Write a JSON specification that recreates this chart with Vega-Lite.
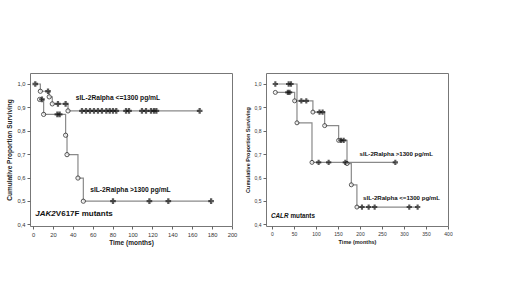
{
  "$schema": "https://vega.github.io/schema/vega-lite/v6.json",
  "background": "white",
  "padding": {"left": 6, "top": 72, "right": 0, "bottom": 0},
  "spacing": 6,
  "datasets": {
    "km": [
      {"panel": "A", "grp": "hi", "type": "event", "t": 6.7, "s": 0.934},
      {"panel": "A", "grp": "hi", "type": "censor", "t": 9.0, "s": 0.934},
      {"panel": "A", "grp": "hi", "type": "event", "t": 10.7, "s": 0.870},
      {"panel": "A", "grp": "hi", "type": "censor", "t": 24.5, "s": 0.870},
      {"panel": "A", "grp": "hi", "type": "censor", "t": 26.8, "s": 0.870},
      {"panel": "A", "grp": "hi", "type": "event", "t": 32.8, "s": 0.781},
      {"panel": "A", "grp": "hi", "type": "event", "t": 34.2, "s": 0.698},
      {"panel": "A", "grp": "hi", "type": "event", "t": 45.2, "s": 0.598},
      {"panel": "A", "grp": "hi", "type": "event", "t": 50.6, "s": 0.499},
      {"panel": "A", "grp": "hi", "type": "censor", "t": 80.4, "s": 0.499},
      {"panel": "A", "grp": "hi", "type": "censor", "t": 117, "s": 0.499},
      {"panel": "A", "grp": "hi", "type": "censor", "t": 136, "s": 0.499},
      {"panel": "A", "grp": "hi", "type": "censor", "t": 179, "s": 0.499},
      {"panel": "A", "grp": "lo", "type": "censor", "t": 2.3, "s": 1.0},
      {"panel": "A", "grp": "lo", "type": "event", "t": 7.4, "s": 0.969},
      {"panel": "A", "grp": "lo", "type": "censor", "t": 15.1, "s": 0.969},
      {"panel": "A", "grp": "lo", "type": "event", "t": 16.3, "s": 0.945},
      {"panel": "A", "grp": "lo", "type": "event", "t": 19.4, "s": 0.915},
      {"panel": "A", "grp": "lo", "type": "censor", "t": 25.1, "s": 0.915},
      {"panel": "A", "grp": "lo", "type": "censor", "t": 32.8, "s": 0.915},
      {"panel": "A", "grp": "lo", "type": "event", "t": 35.2, "s": 0.885},
      {"panel": "A", "grp": "lo", "type": "censor", "t": 49.2, "s": 0.885},
      {"panel": "A", "grp": "lo", "type": "censor", "t": 53.3, "s": 0.885},
      {"panel": "A", "grp": "lo", "type": "censor", "t": 57.3, "s": 0.885},
      {"panel": "A", "grp": "lo", "type": "censor", "t": 61.3, "s": 0.885},
      {"panel": "A", "grp": "lo", "type": "censor", "t": 65.3, "s": 0.885},
      {"panel": "A", "grp": "lo", "type": "censor", "t": 69.3, "s": 0.885},
      {"panel": "A", "grp": "lo", "type": "censor", "t": 73.7, "s": 0.885},
      {"panel": "A", "grp": "lo", "type": "censor", "t": 77.1, "s": 0.885},
      {"panel": "A", "grp": "lo", "type": "censor", "t": 80.4, "s": 0.885},
      {"panel": "A", "grp": "lo", "type": "censor", "t": 83.7, "s": 0.885},
      {"panel": "A", "grp": "lo", "type": "censor", "t": 93.5, "s": 0.885},
      {"panel": "A", "grp": "lo", "type": "censor", "t": 96.5, "s": 0.885},
      {"panel": "A", "grp": "lo", "type": "censor", "t": 109.5, "s": 0.885},
      {"panel": "A", "grp": "lo", "type": "censor", "t": 113.6, "s": 0.885},
      {"panel": "A", "grp": "lo", "type": "censor", "t": 118.6, "s": 0.885},
      {"panel": "A", "grp": "lo", "type": "censor", "t": 121.6, "s": 0.885},
      {"panel": "A", "grp": "lo", "type": "censor", "t": 124, "s": 0.885},
      {"panel": "A", "grp": "lo", "type": "censor", "t": 167.5, "s": 0.885},
      {"panel": "B", "grp": "hi", "type": "censor", "t": 7.6, "s": 1.0},
      {"panel": "B", "grp": "hi", "type": "censor", "t": 37.9, "s": 1.0},
      {"panel": "B", "grp": "hi", "type": "censor", "t": 43.2, "s": 1.0},
      {"panel": "B", "grp": "hi", "type": "event", "t": 56.8, "s": 0.834},
      {"panel": "B", "grp": "hi", "type": "event", "t": 90.9, "s": 0.665},
      {"panel": "B", "grp": "hi", "type": "censor", "t": 106, "s": 0.665},
      {"panel": "B", "grp": "hi", "type": "censor", "t": 128.8, "s": 0.665},
      {"panel": "B", "grp": "hi", "type": "censor", "t": 166.7, "s": 0.665},
      {"panel": "B", "grp": "hi", "type": "censor", "t": 280.3, "s": 0.665},
      {"panel": "B", "grp": "lo", "type": "event", "t": 7.6, "s": 0.964},
      {"panel": "B", "grp": "lo", "type": "censor", "t": 36, "s": 0.964},
      {"panel": "B", "grp": "lo", "type": "censor", "t": 40, "s": 0.964},
      {"panel": "B", "grp": "lo", "type": "event", "t": 51.5, "s": 0.928},
      {"panel": "B", "grp": "lo", "type": "censor", "t": 66.7, "s": 0.928},
      {"panel": "B", "grp": "lo", "type": "censor", "t": 78, "s": 0.928},
      {"panel": "B", "grp": "lo", "type": "event", "t": 93, "s": 0.880},
      {"panel": "B", "grp": "lo", "type": "censor", "t": 108, "s": 0.880},
      {"panel": "B", "grp": "lo", "type": "censor", "t": 115, "s": 0.880},
      {"panel": "B", "grp": "lo", "type": "event", "t": 119.7, "s": 0.822},
      {"panel": "B", "grp": "lo", "type": "event", "t": 151.5, "s": 0.759},
      {"panel": "B", "grp": "lo", "type": "censor", "t": 156.8, "s": 0.759},
      {"panel": "B", "grp": "lo", "type": "censor", "t": 162.9, "s": 0.759},
      {"panel": "B", "grp": "lo", "type": "event", "t": 170.5, "s": 0.660},
      {"panel": "B", "grp": "lo", "type": "event", "t": 180.3, "s": 0.569},
      {"panel": "B", "grp": "lo", "type": "event", "t": 193, "s": 0.474},
      {"panel": "B", "grp": "lo", "type": "censor", "t": 204.5, "s": 0.474},
      {"panel": "B", "grp": "lo", "type": "censor", "t": 219.7, "s": 0.474},
      {"panel": "B", "grp": "lo", "type": "censor", "t": 233.3, "s": 0.474},
      {"panel": "B", "grp": "lo", "type": "censor", "t": 312, "s": 0.474},
      {"panel": "B", "grp": "lo", "type": "censor", "t": 331, "s": 0.474}
    ],
    "labels": [
      {"panel": "A", "t": 43, "s": 0.94, "label": "sIL-2Ralpha <=1300 pg/mL"},
      {"panel": "A", "t": 57.5, "s": 0.545, "label": "sIL-2Ralpha >1300 pg/mL"},
      {"panel": "B", "t": 199, "s": 0.699, "label": "sIL-2Ralpha >1300 pg/mL"},
      {"panel": "B", "t": 207, "s": 0.513, "label": "sIL-2Ralpha <=1300 pg/mL"}
    ]
  },
  "hconcat": [
    {
      "width": 202,
      "height": 153,
      "encoding": {
        "x": {"field": "t", "type": "quantitative", "scale": {"domain": [-3, 200], "nice": false, "zero": false},
              "axis": {"values": [0, 20, 40, 60, 80, 100, 120, 140, 160, 180, 200], "title": "Time (months)", "labelOverlap": false, "labelFlush": false}},
        "y": {"field": "s", "type": "quantitative", "scale": {"domain": [0.393, 1.047], "nice": false, "zero": false},
              "axis": {"values": [0.4, 0.5, 0.6, 0.7, 0.8, 0.9, 1.0], "title": "Cumulative Proportion Surviving", "labelOverlap": false, "labelFlush": false,
                       "labelExpr": "replace(format(datum.value, '.1f'), '.', ',')"}}
      },
      "layer": [
        {
          "data": {"name": "km"},
          "transform": [{"filter": "datum.panel == 'A'"}],
          "mark": {"type": "line", "interpolate": "step-after", "color": "#8a8a8a", "strokeWidth": 1.2},
          "encoding": {"detail": {"field": "grp"}}
        },
        {
          "data": {"name": "km"},
          "transform": [{"filter": "datum.panel == 'A' && datum.type == 'event'"}],
          "mark": {"type": "point", "shape": "circle", "filled": true, "fill": "white", "stroke": "#111", "strokeWidth": 1, "size": 18}
        },
        {
          "data": {"name": "km"},
          "transform": [{"filter": "datum.panel == 'A' && datum.type == 'censor'"}],
          "mark": {"type": "point", "shape": "cross", "filled": true, "color": "#111", "size": 32}
        },
        {
          "data": {"name": "labels"},
          "transform": [{"filter": "datum.panel == 'A'"}],
          "mark": {"type": "text", "align": "left", "baseline": "middle", "font": "Liberation Sans", "fontWeight": "bold", "fontSize": 6.7, "color": "#111"},
          "encoding": {"text": {"field": "label"}}
        },
        {
          "data": {"values": [{"t": 2.3, "s": 0.443, "label": "JAK2"}]},
          "mark": {"type": "text", "align": "left", "baseline": "middle", "font": "Liberation Sans", "fontWeight": "bold", "fontStyle": "italic", "fontSize": 8, "color": "#111"},
          "encoding": {"text": {"field": "label"}}
        },
        {
          "data": {"values": [{"t": 23, "s": 0.443, "label": "V617F mutants"}]},
          "mark": {"type": "text", "align": "left", "baseline": "middle", "font": "Liberation Sans", "fontWeight": "bold", "fontSize": 8, "color": "#111"},
          "encoding": {"text": {"field": "label"}}
        }
      ]
    },
    {
      "width": 182,
      "height": 153,
      "encoding": {
        "x": {"field": "t", "type": "quantitative", "scale": {"domain": [-13.6, 400], "nice": false, "zero": false},
              "axis": {"values": [0, 50, 100, 150, 200, 250, 300, 350, 400], "title": "Time (months)", "labelFontSize": 5, "titleFontSize": 5.5, "labelOverlap": false, "labelFlush": false}},
        "y": {"field": "s", "type": "quantitative", "scale": {"domain": [0.393, 1.047], "nice": false, "zero": false},
              "axis": {"values": [0.4, 0.5, 0.6, 0.7, 0.8, 0.9, 1.0], "title": "Cumulative Proportion Surviving",
                       "labelFontSize": 5, "titleFontSize": 5.5, "labelOverlap": false, "labelFlush": false,
                       "labelExpr": "replace(format(datum.value, '.1f'), '.', ',')"}}
      },
      "layer": [
        {
          "data": {"name": "km"},
          "transform": [{"filter": "datum.panel == 'B'"}],
          "mark": {"type": "line", "interpolate": "step-after", "color": "#8a8a8a", "strokeWidth": 1.2},
          "encoding": {"detail": {"field": "grp"}}
        },
        {
          "data": {"name": "km"},
          "transform": [{"filter": "datum.panel == 'B' && datum.type == 'event'"}],
          "mark": {"type": "point", "shape": "circle", "filled": true, "fill": "white", "stroke": "#111", "strokeWidth": 1, "size": 16}
        },
        {
          "data": {"name": "km"},
          "transform": [{"filter": "datum.panel == 'B' && datum.type == 'censor'"}],
          "mark": {"type": "point", "shape": "cross", "filled": true, "color": "#111", "size": 28}
        },
        {
          "data": {"name": "labels"},
          "transform": [{"filter": "datum.panel == 'B'"}],
          "mark": {"type": "text", "align": "left", "baseline": "middle", "font": "Liberation Sans", "fontWeight": "bold", "fontSize": 6.1, "color": "#111"},
          "encoding": {"text": {"field": "label"}}
        },
        {
          "data": {"values": [{"t": -2.3, "s": 0.436, "label": "CALR"}]},
          "mark": {"type": "text", "align": "left", "baseline": "middle", "font": "Liberation Sans", "fontWeight": "bold", "fontStyle": "italic", "fontSize": 6.3, "color": "#111"},
          "encoding": {"text": {"field": "label"}}
        },
        {
          "data": {"values": [{"t": 42, "s": 0.436, "label": "mutants"}]},
          "mark": {"type": "text", "align": "left", "baseline": "middle", "font": "Liberation Sans", "fontWeight": "bold", "fontSize": 6.3, "color": "#111"},
          "encoding": {"text": {"field": "label"}}
        }
      ]
    }
  ],
  "config": {
    "view": {"stroke": "#777", "strokeWidth": 1},
    "axis": {
      "domain": false, "grid": false, "labelOverlap": false,
      "tickColor": "#666", "tickSize": 3,
      "labelFont": "Liberation Sans", "labelFontSize": 5.8, "labelColor": "#333", "labelPadding": 2,
      "titleFont": "Liberation Sans", "titleFontSize": 6.5, "titleFontWeight": "bold", "titleColor": "#222",
      "titlePadding": 4
    },
    "axisX": {"labelPadding": 2, "titlePadding": 3}
  }
}
